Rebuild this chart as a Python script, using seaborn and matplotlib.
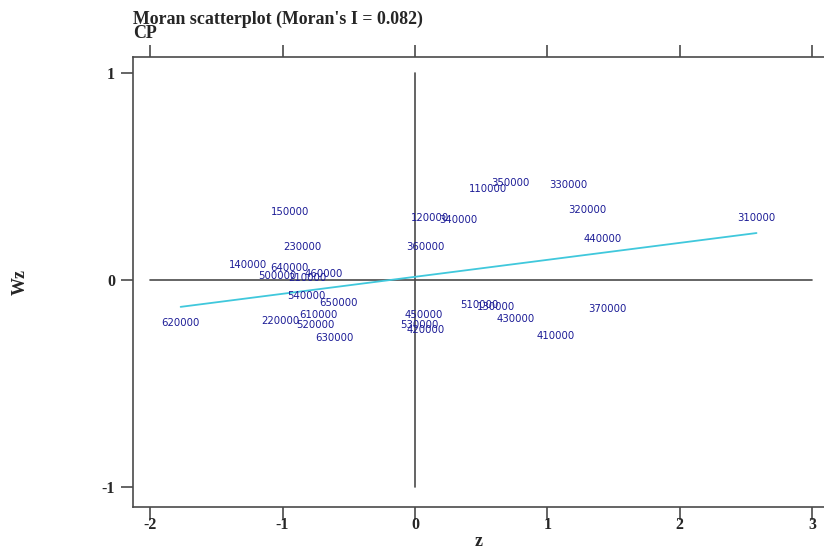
import numpy as np
import pandas as pd
import matplotlib
matplotlib.use("Agg")
import matplotlib.pyplot as plt
import seaborn as sns

# province codes and their standardized value z / spatial lag Wz
codes = ["620000", "220000", "610000", "520000", "630000", "540000", "650000",
         "140000", "640000", "500000", "210000", "460000", "150000", "230000",
         "120000", "340000", "360000", "110000", "350000", "330000", "320000",
         "440000", "310000", "510000", "130000", "430000", "370000", "410000",
         "450000", "530000", "420000"]
z = [-1.77, -1.02, -0.73, -0.75, -0.61, -0.82, -0.58,
     -1.26, -0.95, -1.04, -0.81, -0.69, -0.94, -0.85,
     0.11, 0.33, 0.08, 0.55, 0.72, 1.16, 1.30,
     1.42, 2.58, 0.49, 0.61, 0.76, 1.45, 1.06,
     0.07, 0.03, 0.08]
wz = [-0.21, -0.20, -0.17, -0.22, -0.28, -0.08, -0.11,
      0.07, 0.06, 0.02, 0.01, 0.03, 0.33, 0.16,
      0.30, 0.29, 0.16, 0.44, 0.47, 0.46, 0.34,
      0.20, 0.30, -0.12, -0.13, -0.19, -0.14, -0.27,
      -0.17, -0.22, -0.24]
moran_i = 0.082       # slope of the fitted line
intercept = 0.015
xticks = [-2, -1, 0, 1, 2, 3]
yticks = [-1, 0, 1]

df = pd.DataFrame({"code": codes, "z": z, "wz": wz})

# fitted line over the range of z
fit = pd.DataFrame({"z": [df["z"].min(), df["z"].max()]})
fit["wz"] = intercept + moran_i * fit["z"]

sns.set_style("ticks")
plt.rcParams["font.family"] = ["Liberation Serif", "DejaVu Serif"]
axis_col = "#4a4a4a"

fig = plt.figure(figsize=(8.24, 5.51), dpi=100)
ax = fig.add_axes([133 / 824, 1 - 507 / 551, 1 - 133 / 824, 450 / 551])

# reference lines through the origin
ax.plot([-2, 3], [0, 0], color=axis_col, lw=1.2)
ax.plot([0, 0], [-1, 1], color=axis_col, lw=1.2)

sns.lineplot(data=fit, x="z", y="wz", ax=ax, color="#40c8dc", lw=1.3)

for c, xx, yy in zip(df["code"], df["z"], df["wz"]):
    ax.text(xx, yy, c, ha="center", va="center", fontsize=7.3,
            family="DejaVu Sans", color="#1c1c96")

ax.set_xlim(-2.13, 3.09)
ax.set_ylim(-1.097, 1.077)
ax.set_xticks(xticks)
ax.set_xticklabels([str(t) for t in xticks])
ax.set_yticks(yticks)
ax.set_yticklabels([str(t) for t in yticks])
ax.tick_params(axis="both", direction="out", length=9, width=1.2,
               color=axis_col, labelsize=11.5)
ax.tick_params(axis="x", top=True, labeltop=False, pad=-2)
ax.tick_params(axis="y", pad=4)
for lab in ax.get_xticklabels() + ax.get_yticklabels():
    lab.set_fontweight("bold")
for side in ["left", "bottom", "top"]:
    ax.spines[side].set_color(axis_col)
    ax.spines[side].set_linewidth(1.2)
ax.spines["right"].set_visible(False)

ax.set_xlabel("z", fontsize=13, fontweight="bold", labelpad=0)
ax.set_ylabel("Wz", fontsize=13, fontweight="bold", labelpad=52)

fig.text(133 / 824, 1 - 24 / 551, "Moran scatterplot (Moran's I = %.3f)" % moran_i,
         ha="left", va="baseline", fontsize=12.9, fontweight="bold")
fig.text(133 / 824, 1 - 38 / 551, "CP",
         ha="left", va="baseline", fontsize=12.9, fontweight="bold")

fig.savefig("out.png", dpi=100)
